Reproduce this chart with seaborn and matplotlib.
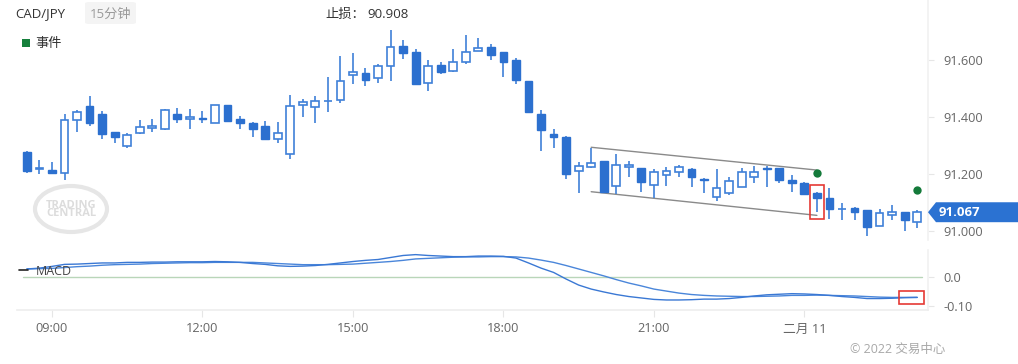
import numpy as np
import pandas as pd
import matplotlib
matplotlib.use("Agg")
import matplotlib.pyplot as plt
import matplotlib.transforms as mtrans
from matplotlib.patches import Rectangle, Ellipse, Polygon, FancyBboxPatch
import seaborn as sns

# ---------------- data ----------------
opens = [91.279, 91.219, 91.214, 91.206, 91.389, 91.441, 91.412, 91.349, 91.299, 91.344,
         91.361, 91.358, 91.412, 91.393, 91.399, 91.381, 91.442, 91.394, 91.379, 91.368,
         91.323, 91.271, 91.443, 91.435, 91.456, 91.461, 91.547, 91.556, 91.539, 91.579,
         91.651, 91.628, 91.519, 91.585, 91.562, 91.596, 91.634, 91.647, 91.628, 91.600,
         91.526, 91.411, 91.341, 91.332, 91.213, 91.227, 91.247, 91.158, 91.225, 91.222,
         91.161, 91.198, 91.207, 91.219, 91.185, 91.119, 91.133, 91.156, 91.192, 91.222,
         91.221, 91.179, 91.171, 91.133, 91.116, 91.077, 91.083, 91.074, 91.020, 91.056,
         91.068, 91.034]
highs = [91.281, 91.250, 91.244, 91.412, 91.426, 91.475, 91.421, 91.350, 91.344, 91.391,
         91.396, 91.428, 91.432, 91.428, 91.423, 91.443, 91.443, 91.405, 91.385, 91.388,
         91.382, 91.479, 91.463, 91.475, 91.540, 91.615, 91.625, 91.575, 91.589, 91.706,
         91.671, 91.639, 91.601, 91.594, 91.639, 91.689, 91.677, 91.656, 91.630, 91.607,
         91.528, 91.425, 91.358, 91.334, 91.243, 91.293, 91.248, 91.271, 91.248, 91.223,
         91.219, 91.226, 91.233, 91.221, 91.186, 91.218, 91.192, 91.222, 91.229, 91.229,
         91.223, 91.198, 91.172, 91.137, 91.151, 91.100, 91.084, 91.075, 91.077, 91.091,
         91.069, 91.075]
lows = [91.204, 91.200, 91.200, 91.180, 91.347, 91.369, 91.325, 91.309, 91.291, 91.340,
        91.349, 91.356, 91.379, 91.360, 91.379, 91.380, 91.382, 91.360, 91.330, 91.319,
        91.309, 91.253, 91.400, 91.379, 91.418, 91.451, 91.516, 91.511, 91.519, 91.527,
        91.605, 91.516, 91.493, 91.553, 91.560, 91.586, 91.632, 91.600, 91.540, 91.517,
        91.414, 91.283, 91.291, 91.182, 91.135, 91.221, 91.138, 91.131, 91.189, 91.138,
        91.116, 91.159, 91.189, 91.156, 91.135, 91.105, 91.126, 91.155, 91.168, 91.156,
        91.168, 91.139, 91.130, 91.069, 91.042, 91.040, 91.040, 90.984, 91.019, 91.040,
        91.001, 91.011]
closes = [91.212, 91.221, 91.204, 91.392, 91.420, 91.379, 91.342, 91.330, 91.338, 91.367,
          91.369, 91.426, 91.396, 91.400, 91.394, 91.442, 91.387, 91.379, 91.360, 91.323,
          91.344, 91.439, 91.454, 91.457, 91.458, 91.528, 91.561, 91.531, 91.582, 91.646,
          91.625, 91.517, 91.582, 91.560, 91.593, 91.630, 91.642, 91.619, 91.595, 91.531,
          91.419, 91.354, 91.332, 91.202, 91.229, 91.241, 91.139, 91.232, 91.233, 91.173,
          91.208, 91.213, 91.225, 91.189, 91.180, 91.151, 91.178, 91.208, 91.209, 91.217,
          91.179, 91.171, 91.131, 91.117, 91.077, 91.080, 91.069, 91.016, 91.063, 91.067,
          91.040, 91.067]
macd_line = [0.029, 0.032, 0.038, 0.045, 0.046, 0.048, 0.050, 0.050, 0.052, 0.052,
             0.053, 0.053, 0.054, 0.054, 0.054, 0.055, 0.054, 0.052, 0.048, 0.045,
             0.040, 0.038, 0.039, 0.041, 0.045, 0.050, 0.055, 0.059, 0.062, 0.069,
             0.076, 0.079, 0.076, 0.074, 0.072, 0.072, 0.074, 0.074, 0.073, 0.067,
             0.050, 0.032, 0.017, -0.006, -0.027, -0.041, -0.051, -0.060, -0.067, -0.072,
             -0.077, -0.079, -0.079, -0.078, -0.076, -0.076, -0.074, -0.070, -0.065, -0.061,
             -0.059, -0.057, -0.058, -0.060, -0.063, -0.067, -0.070, -0.074, -0.074, -0.073,
             -0.071, -0.070]
signal_line = [0.029, 0.030, 0.031, 0.034, 0.037, 0.039, 0.042, 0.044, 0.045, 0.046,
               0.048, 0.049, 0.050, 0.051, 0.051, 0.052, 0.052, 0.052, 0.052, 0.050,
               0.048, 0.046, 0.044, 0.044, 0.044, 0.045, 0.046, 0.049, 0.052, 0.055,
               0.059, 0.064, 0.066, 0.068, 0.070, 0.071, 0.071, 0.072, 0.072, 0.071,
               0.067, 0.060, 0.052, 0.041, 0.029, 0.017, 0.005, -0.008, -0.020, -0.030,
               -0.041, -0.048, -0.055, -0.060, -0.063, -0.065, -0.066, -0.067, -0.067, -0.066,
               -0.065, -0.063, -0.063, -0.062, -0.063, -0.064, -0.065, -0.067, -0.069, -0.070,
               -0.070, -0.070]
times = pd.date_range("2022-02-10 08:30", periods=len(opens), freq="15min")
tick_times = ["2022-02-10 09:00", "2022-02-10 12:00", "2022-02-10 15:00",
              "2022-02-10 18:00", "2022-02-10 21:00", "2022-02-11 00:00"]
tick_labels = ["09:00", "12:00", "15:00", "18:00", "21:00", "二月 11"]
price_ticks = [91.0, 91.2, 91.4, 91.6]
macd_ticks = [0.0, -0.10]
macd_tick_labels = ["0.0", "-0.10"]
last_price = 91.067
stop_loss = "90.908"
event_idx = [63, 71]
event_price = [91.205, 91.145]
channel_idx = [45, 63]
channel_upper = [91.295, 91.215]
channel_lower = [91.139, 91.056]

# ---------------- style ----------------
sns.set_theme(style="white")
plt.rcParams["font.family"] = ["Open Sans", "Noto Sans CJK SC", "DejaVu Sans"]

W, H = 1018, 364
fig = plt.figure(figsize=(W / 100, H / 100), dpi=100)
fig.patch.set_facecolor("white")

def fx(x):
    return x / W

def fy(y):
    return 1 - y / H

left, right = 17, 928
ax1 = fig.add_axes([fx(left), fy(240), fx(right - left), 240 / H])
ax2 = fig.add_axes([fx(left), fy(310), fx(right - left), 60 / H])
for ax in (ax1, ax2):
    ax.set_facecolor("none")
    ax.set_xlim(-0.79, 71.86)
    for s in ("top", "left"):
        ax.spines[s].set_visible(False)
    ax.spines["right"].set_color("#f2f2f2")
    ax.spines["bottom"].set_visible(False)
ax1.set_ylim(90.9695, 91.812)
ax2.set_ylim(-0.1139, 0.0951)
ax2.spines["bottom"].set_visible(True)
ax2.spines["bottom"].set_color("#eeeeee")

idx = np.arange(len(opens))
o = np.array(opens); c = np.array(closes); h = np.array(highs); l = np.array(lows)
up = c >= o
edge = "#3f80d8"
fill = "#2c70cf"

# wicks
ax1.vlines(idx, l, h, color=edge, lw=1.2, zorder=2)
# bodies
body_bottom = np.minimum(o, c)
body_h = np.maximum(np.abs(c - o), 0.002)
ax1.bar(idx[up], body_h[up], bottom=body_bottom[up], width=0.62,
        color="white", edgecolor=edge, linewidth=1.2, zorder=3)
ax1.bar(idx[~up], body_h[~up], bottom=body_bottom[~up], width=0.62,
        color=fill, edgecolor=fill, linewidth=1.0, zorder=3)

# channel lines
ax1.plot(channel_idx, channel_upper, color="#8a8a8a", lw=1.0, zorder=1)
ax1.plot(channel_idx, channel_lower, color="#8a8a8a", lw=1.0, zorder=1)

# event dots
ax1.scatter(event_idx, event_price, s=36, color="#147a3a", zorder=5, linewidths=0)

# red highlight around candle 63
ax1.add_patch(Rectangle((63 - 0.55, 91.044), 1.1, 0.117, fill=False,
                        edgecolor="#e53935", lw=1.2, zorder=6))

# y ticks price
ax1.set_xticks([])
ax1.yaxis.tick_right()
ax1.set_yticks(price_ticks)
ax1.set_yticklabels([f"{v:.3f}" for v in price_ticks])
ax1.tick_params(axis="y", length=4, width=0.8, color="#e6e6e6", pad=7,
                labelsize=9.2, labelcolor="#666666")

# MACD panel
ax2.axhline(0, xmin=0.0066, xmax=0.993, color="#b9d6b9", lw=1.0, zorder=1)
sns.lineplot(x=idx, y=signal_line, ax=ax2, color="#4a86da", lw=1.0, zorder=3)
sns.lineplot(x=idx, y=macd_line, ax=ax2, color="#3a78d4", lw=1.0, zorder=3)
ax2.set_ylabel("")
ax2.add_patch(Rectangle((69.55, -0.094), 2.0, 0.046, fill=False,
                        edgecolor="#e53935", lw=1.2, zorder=6, clip_on=False))
ax2.yaxis.tick_right()
ax2.set_yticks(macd_ticks)
ax2.set_yticklabels(macd_tick_labels)
ax2.tick_params(axis="y", length=4, width=0.8, color="#e6e6e6", pad=7,
                labelsize=9.2, labelcolor="#666666")
tick_pos = [times.get_loc(pd.Timestamp(t)) for t in tick_times]
ax2.set_xticks(tick_pos)
ax2.set_xticklabels(tick_labels)
ax2.tick_params(axis="x", length=5, width=0.8, color="#e6e6e6", pad=4,
                labelsize=9.2, labelcolor="#666666", bottom=True)

# last price tag
trans = mtrans.blended_transform_factory(fig.transFigure, ax1.transData)
hh = 0.035
tag = Polygon([(fx(928), last_price), (fx(936), last_price + hh), (1.0, last_price + hh),
               (1.0, last_price - hh), (fx(936), last_price - hh)], closed=True,
              transform=trans, facecolor="#2b72d2", edgecolor="none", clip_on=False, zorder=10)
fig.patches.append(tag)
fig.text(fx(939), last_price, f"{last_price:.3f}", transform=trans, color="white",
         fontsize=9.5, fontweight="bold", va="center", ha="left", zorder=11)

# watermark
fig.patches.append(Ellipse((fx(71), fy(209)), fx(72), 46 / H, transform=fig.transFigure,
                           fill=False, edgecolor="#e6e6e6", lw=3, zorder=0))
fig.text(fx(71), fy(205), "TRADING", transform=fig.transFigure, color="#dcdcdc",
         fontsize=8, fontweight="bold", ha="center", va="center")
fig.text(fx(71), fy(214), "CENTRAL", transform=fig.transFigure, color="#dcdcdc",
         fontsize=8, fontweight="bold", ha="center", va="center")

# header
fig.text(fx(15), fy(14), "CAD/JPY", color="#333333", fontsize=9.5, va="center", ha="left")
fig.patches.append(FancyBboxPatch((fx(85), fy(24)), fx(51), 22 / H,
                                  boxstyle="round,pad=0,rounding_size=0.004",
                                  transform=fig.transFigure, facecolor="#f4f4f4",
                                  edgecolor="none", zorder=0))
fig.text(fx(110.5), fy(14), "15分钟", color="#9a9a9a", fontsize=9.5, va="center", ha="center")
fig.text(fx(325), fy(14), "止损：", color="#333333", fontsize=9.5, va="center", ha="left")
fig.text(fx(367), fy(14), stop_loss, color="#333333", fontsize=9.5, va="center", ha="left")
fig.patches.append(Rectangle((fx(22), fy(47)), fx(8), 8 / H, transform=fig.transFigure,
                             facecolor="#16803c", edgecolor="none"))
fig.text(fx(35), fy(43.5), "事件", color="#333333", fontsize=9.5, va="center", ha="left")

# MACD legend
fig.lines.append(plt.Line2D([fx(19), fx(28)], [fy(270), fy(270)], transform=fig.transFigure,
                            color="#222222", lw=1.2))
fig.text(fx(35.5), fy(271.5), "MACD", color="#444444", fontsize=9, va="center", ha="left")

# copyright
fig.text(fx(850), fy(349), "© 2022 交易中心", color="#a8a8a8", fontsize=9, va="center", ha="left")

fig.savefig("out.png", dpi=100, facecolor="white")
